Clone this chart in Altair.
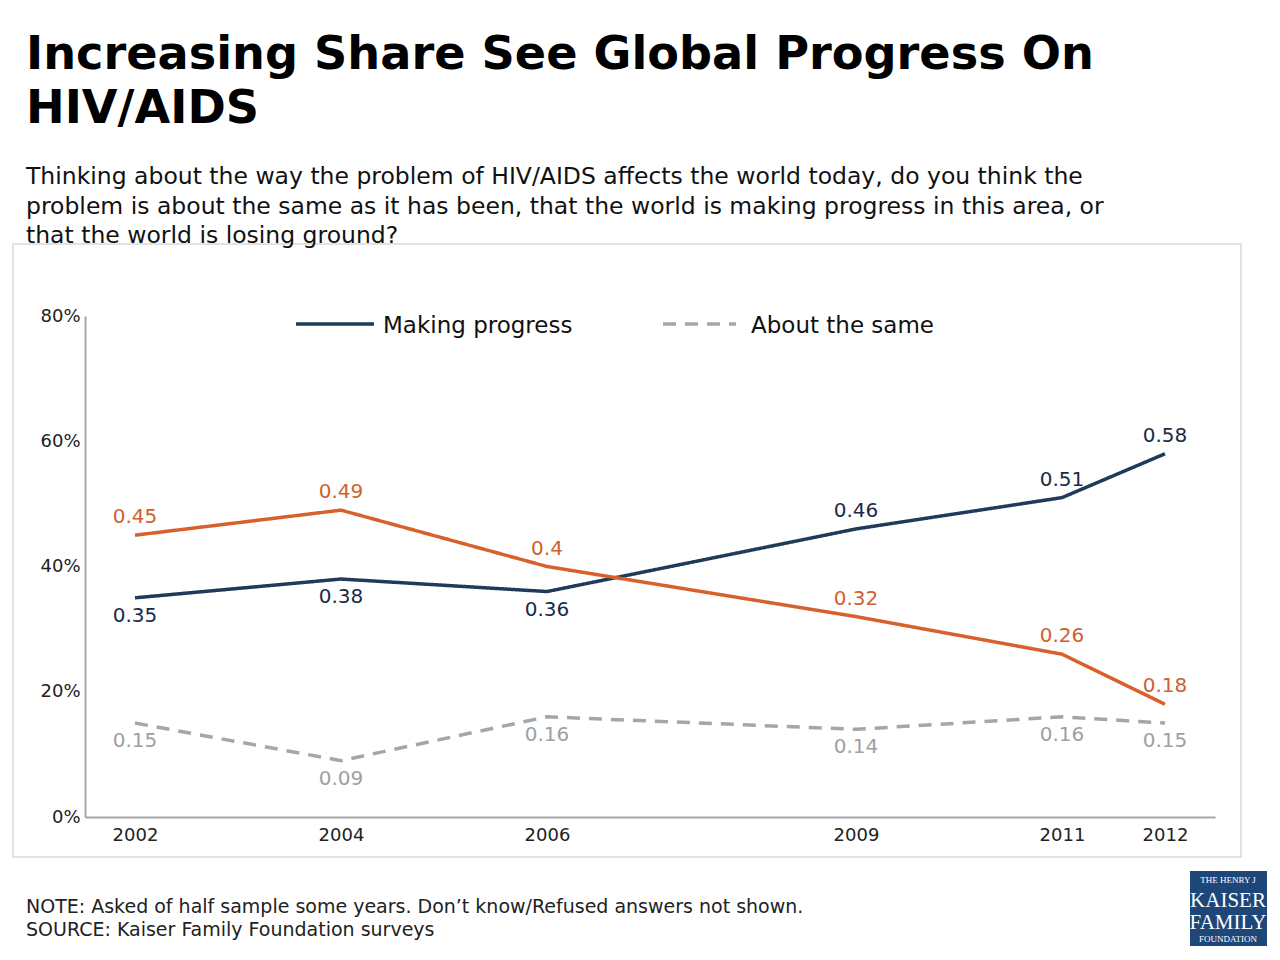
import altair as alt
import pandas as pd

# ---- data ----
years = [2002, 2004, 2006, 2009, 2011, 2012]
making_progress = [0.35, 0.38, 0.36, 0.46, 0.51, 0.58]
losing_ground = [0.45, 0.49, 0.40, 0.32, 0.26, 0.18]
about_same = [0.15, 0.09, 0.16, 0.14, 0.16, 0.15]
series_names = ["Making progress", "Losing ground", "About the same"]
label_side = {
    "Making progress": ["below", "below", "below", "above", "above", "above"],
    "Losing ground": ["above", "above", "above", "above", "above", "above"],
    "About the same": ["below", "below", "below", "below", "below", "below"],
}
x_ticks = [2002, 2004, 2006, 2009, 2011, 2012]
y_ticks = [0, 0.2, 0.4, 0.6, 0.8]
legend_items = ["Making progress", "About the same"]

title_lines = ["Increasing Share See Global Progress On", "HIV/AIDS"]
subtitle_lines = [
    "Thinking about the way the problem of HIV/AIDS affects the world today, do you think the",
    "problem is about the same as it has been, that the world is making progress in this area, or",
    "that the world is losing ground?",
]
note_lines = [
    "NOTE: Asked of half sample some years. Don\u2019t know/Refused answers not shown.",
    "SOURCE: Kaiser Family Foundation surveys",
]
logo_lines = ["THE HENRY J", "KAISER", "FAMILY", "FOUNDATION"]

rows = []
for name, vals in zip(series_names, [making_progress, losing_ground, about_same]):
    for yr, v, side in zip(years, vals, label_side[name]):
        rows.append({"year": yr, "value": v, "series": name, "label": f"{v:g}", "side": side})
df = pd.DataFrame(rows)

NAVY = "#203a5c"
ORANGE = "#d8602a"
GRAY = "#a6a6a6"
FONT = "DejaVu Sans"
DASH = [13, 9]

x_enc = alt.X("year:Q", scale=alt.Scale(domain=[2001.5146, 2012.4856], nice=False, zero=False),
              axis=alt.Axis(values=x_ticks, format="d", title=None, ticks=False, grid=False,
                            domainColor=GRAY, domainWidth=2, labelFont=FONT, labelFontSize=18,
                            labelColor="#222222", labelPadding=9, labelFlush=False))
y_enc = alt.Y("value:Q", scale=alt.Scale(domain=[0, 0.8], nice=False),
              axis=alt.Axis(values=y_ticks, format=".0%", title=None, ticks=False, grid=False,
                            domainColor=GRAY, domainWidth=2, labelFont=FONT, labelFontSize=18,
                            labelColor="#222222", labelPadding=5, labelFlush=False))

lines = alt.Chart(df).mark_line(strokeWidth=3.5).encode(
    x=x_enc,
    y=y_enc,
    color=alt.Color("series:N", scale=alt.Scale(domain=series_names, range=[NAVY, ORANGE, GRAY]),
                    legend=None),
    strokeDash=alt.StrokeDash("series:N",
                              scale=alt.Scale(domain=series_names, range=[[1, 0], [1, 0], DASH]),
                              legend=None),
)

label_color = alt.Color("series:N", scale=alt.Scale(domain=series_names,
                                                    range=["#1c2b44", "#d0612f", "#a0a0a0"]),
                        legend=None)
labels_above = alt.Chart(df).transform_filter(alt.datum.side == "above").mark_text(
    dy=-18, fontSize=20, font=FONT).encode(x="year:Q", y="value:Q", text="label:N", color=label_color)
labels_below = alt.Chart(df).transform_filter(alt.datum.side == "below").mark_text(
    dy=18, fontSize=20, font=FONT).encode(x="year:Q", y="value:Q", text="label:N", color=label_color)

one = pd.DataFrame({"k": [0]})


def txt(s, x, y, size, weight="normal", color="#000000", font=FONT, align="left",
        baseline="alphabetic"):
    return alt.Chart(pd.DataFrame({"t": [s]})).mark_text(
        align=align, baseline=baseline, fontSize=size, fontWeight=weight,
        color=color, font=font).encode(x=alt.value(x), y=alt.value(y), text="t:N")


def swatch(x1, x2, y, color, dash):
    return alt.Chart(one).mark_rule(color=color, strokeWidth=3.5, strokeDash=dash).encode(
        x=alt.value(x1), x2=alt.value(x2), y=alt.value(y))


box = alt.Chart(one).mark_rect(fill="transparent", stroke="#d9d9d9", strokeWidth=1.5).encode(
    x=alt.value(-72), x2=alt.value(1156), y=alt.value(-72), y2=alt.value(541))

logo_box = alt.Chart(one).mark_rect(fill="#1d4679").encode(
    x=alt.value(1105), x2=alt.value(1182), y=alt.value(555), y2=alt.value(630))

legend_layers = [
    swatch(211, 289, 8, NAVY, [1, 0]),
    txt(legend_items[0], 298, 10, 23, color="#111111", baseline="middle"),
    swatch(578, 651, 8, GRAY, DASH),
    txt(legend_items[1], 666, 10, 23, color="#111111", baseline="middle"),
]

texts = [
    txt(title_lines[0], -59, -247, 46.2, weight="bold"),
    txt(title_lines[1], -59, -193, 46.2, weight="bold"),
    txt(subtitle_lines[0], -59, -132, 23.5, color="#111111"),
    txt(subtitle_lines[1], -59, -102, 23.5, color="#111111"),
    txt(subtitle_lines[2], -59, -73, 23.5, color="#111111"),
    txt(note_lines[0], -59, 597, 19, color="#222222"),
    txt(note_lines[1], -59, 620, 19, color="#222222"),
    txt(logo_lines[0], 1143, 567, 9, color="#ffffff", font="Liberation Serif", align="center"),
    txt(logo_lines[1], 1143, 591, 21, color="#ffffff", font="Liberation Serif", align="center"),
    txt(logo_lines[2], 1143, 613, 21, color="#ffffff", font="Liberation Serif", align="center"),
    txt(logo_lines[3], 1143, 626, 9, color="#ffffff", font="Liberation Serif", align="center"),
]

chart = alt.layer(box, lines, labels_above, labels_below, logo_box, *legend_layers,
                  *texts).resolve_scale(
    color="independent"
).properties(
    width=1130, height=501,
    autosize=alt.AutoSizeParams(type="none"),
    padding={"left": 77, "top": 308, "right": 57, "bottom": 135},
    background="#ffffff",
).configure_view(stroke=None)

chart.save("out.html", embed_options={"renderer": "svg", "actions": False})
